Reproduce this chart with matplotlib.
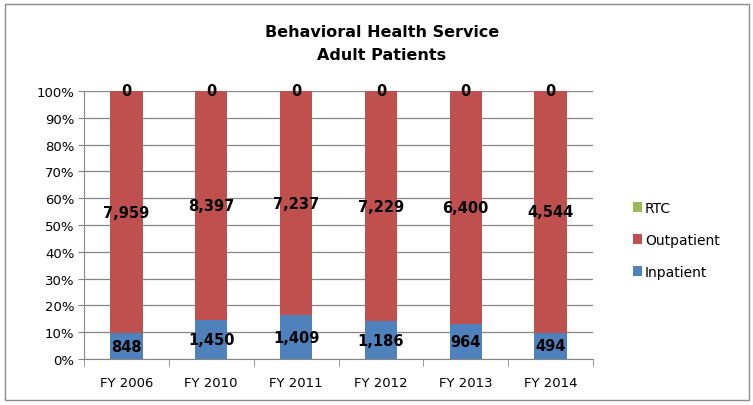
import matplotlib
matplotlib.use("Agg")
import matplotlib.pyplot as plt
import numpy as np
from matplotlib.patches import Rectangle

YEARS = ["FY 2006", "FY 2010", "FY 2011", "FY 2012", "FY 2013", "FY 2014"]
INPATIENT = [848, 1450, 1409, 1186, 964, 494]
OUTPATIENT = [7959, 8397, 7237, 7229, 6400, 4544]
RTC = [0, 0, 0, 0, 0, 0]

C_IN = "#4f81bd"
C_OUT = "#c0504d"
C_RTC = "#9bbb59"

plt.rcParams["font.family"] = ["DejaVu Sans"]

fig = plt.figure(figsize=(7.53, 4.06), dpi=100)
# outer chart border
fig.patches.append(Rectangle((0.007, 0.012), 0.988, 0.975, transform=fig.transFigure,
                             fill=False, edgecolor="#8c8c8c", linewidth=1.0))
ax = fig.add_axes([84 / 753, 1 - 360 / 406, (593 - 84) / 753, (360 - 92) / 406])

inp = np.array(INPATIENT, float)
out = np.array(OUTPATIENT, float)
rtc = np.array(RTC, float)
tot = inp + out + rtc
p_in = inp / tot * 100
p_out = out / tot * 100
p_rtc = rtc / tot * 100

x = np.arange(len(YEARS))
w = 0.38
ax.bar(x, p_in, w, color=C_IN, label="Inpatient", zorder=3)
ax.bar(x, p_out, w, bottom=p_in, color=C_OUT, label="Outpatient", zorder=3)
ax.bar(x, p_rtc, w, bottom=p_in + p_out, color=C_RTC, label="RTC", zorder=3)

lab = dict(ha="center", va="center", fontsize=10.5, fontweight="bold",
           color="black", zorder=4)
for i in range(len(YEARS)):
    ax.text(x[i], p_in[i] / 2, f"{INPATIENT[i]:,}", **lab)
    ax.text(x[i], p_in[i] + p_out[i] / 2, f"{OUTPATIENT[i]:,}", **lab)
    ax.text(x[i], p_in[i] + p_out[i] + p_rtc[i] / 2, f"{RTC[i]:,}", **lab)

ax.set_xlim(-0.5, len(YEARS) - 0.5)
ax.set_ylim(0, 100)
ax.set_yticks(np.arange(0, 101, 10))
ax.set_yticklabels([f"{v}%" for v in range(0, 101, 10)], fontsize=9.5)
ax.set_xticks(x)
ax.set_xticklabels(YEARS, fontsize=9.5)
ax.set_xticks(np.arange(-0.5, len(YEARS)), minor=True)
ax.tick_params(axis="x", which="major", length=0, pad=12)
ax.tick_params(axis="x", which="minor", length=5, color="#868686")
ax.tick_params(axis="y", length=4, color="#868686", pad=3)
ax.grid(axis="y", color="#868686", linewidth=0.9, zorder=0)
for s in ["top", "right"]:
    ax.spines[s].set_visible(False)
for s in ["left", "bottom"]:
    ax.spines[s].set_color("#868686")

handles, labels = ax.get_legend_handles_labels()
fig.legend(handles[::-1], labels[::-1], loc="center left",
           bbox_to_anchor=(620 / 753, 1 - 241 / 406), frameon=False,
           fontsize=10, handlelength=0.7, handleheight=0.7,
           handletextpad=0.2, labelspacing=1.3)

fig.text(0.507, 1 - 44 / 406, "Behavioral Health Service\nAdult Patients",
         ha="center", va="center", fontsize=11.5, fontweight="bold",
         linespacing=1.6)

fig.savefig("out.png", dpi=100)
